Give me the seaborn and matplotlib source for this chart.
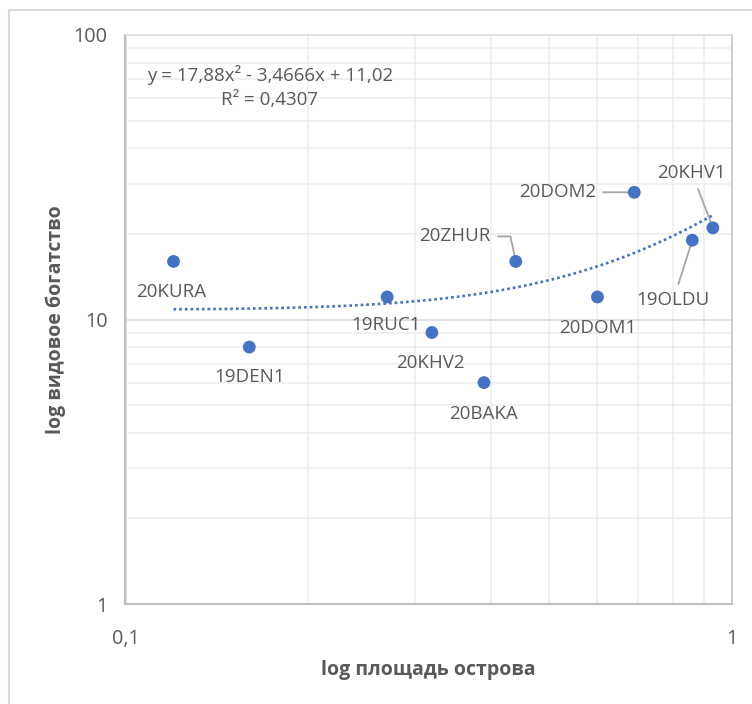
import numpy as np
import pandas as pd
import matplotlib
matplotlib.use("Agg")
import matplotlib.pyplot as plt
import seaborn as sns
from matplotlib.patches import Rectangle

# island samples: area vs species richness
sites = ['20KURA', '19DEN1', '19RUC1', '20KHV2', '20BAKA',
         '20ZHUR', '20DOM1', '20DOM2', '19OLDU', '20KHV1']
area = [0.12, 0.16, 0.27, 0.32, 0.39, 0.44, 0.60, 0.69, 0.86, 0.93]
richness = [16, 8, 12, 9, 6, 16, 12, 28, 19, 21]

# polynomial trendline as printed on the chart
trend_coef = [17.88, -3.4666, 11.02]
eq_line1 = 'y = 17,88x² - 3,4666x + 11,02'
eq_line2 = 'R² = 0,4307'

x_title = 'log площадь острова'
y_title = 'log видовое богатство'

df = pd.DataFrame({'site': sites, 'area': area, 'richness': richness})

sns.set_style('white')
plt.rcParams['font.family'] = ['Open Sans', 'DejaVu Sans']

DPI = 100
fig = plt.figure(figsize=(7.52, 7.04), dpi=DPI)
ax = fig.add_axes([125.5 / 752, 1 - 604 / 704, (732 - 125.5) / 752, (604 - 35) / 704])

blue = '#4472C4'
txt = '#595959'

# trendline
xs = np.linspace(df['area'].min(), df['area'].max(), 200)
ys = np.polyval(trend_coef, xs)
sns.lineplot(x=xs, y=ys, ax=ax, color=blue, linewidth=1.9,
             linestyle=(0, (1, 1.15)), zorder=3)

sns.scatterplot(data=df, x='area', y='richness', ax=ax, color=blue, s=85,
                edgecolor='none', zorder=5)

ax.set_xscale('log')
ax.set_yscale('log')
ax.set_xlim(0.1, 1)
ax.set_ylim(1, 100)

ax.set_xticks([0.1, 1], labels=['0,1', '1'])
ax.set_yticks([1, 10, 100], labels=['1', '10', '100'])
ax.xaxis.set_minor_formatter(matplotlib.ticker.NullFormatter())
ax.yaxis.set_minor_formatter(matplotlib.ticker.NullFormatter())
ax.tick_params(axis='x', which='major', length=5, color='#bfbfbf', width=1.2,
               pad=13, labelsize=14.3, labelcolor=txt)
ax.tick_params(axis='y', which='major', length=0, pad=13,
               labelsize=14.3, labelcolor=txt)
ax.tick_params(which='minor', length=0)

ax.grid(which='major', color='#d9d9d9', linewidth=1.1)
ax.grid(which='minor', color='#ededed', linewidth=1.1)
ax.set_axisbelow(True)

for side in ['left', 'bottom']:
    ax.spines[side].set_color('#bfbfbf')
    ax.spines[side].set_linewidth(1.5)
ax.spines['right'].set_color('#c8c8c8')
ax.spines['right'].set_linewidth(1.2)
ax.spines['top'].set_color('#dedede')
ax.spines['top'].set_linewidth(1.1)

ax.set_xlabel(x_title, fontsize=14, fontweight='bold', color=txt, labelpad=8)
ax.set_ylabel(y_title, fontsize=14, fontweight='bold', color=txt, labelpad=5)

# data labels, offsets in pixels from each point
px = 72 / DPI
label_offsets = {
    '20KURA': (-2, -31), '19DEN1': (0, -30), '19RUC1': (-1, -28),
    '20KHV2': (-1, -30.6), '20BAKA': (0, -31.3), '20ZHUR': (-61, 25),
    '20DOM1': (0, -30.6), '20DOM2': (-77, 0), '19OLDU': (-19, -60),
    '20KHV1': (-21, 55),
}
leaders = {
    '20ZHUR': 'angle,angleA=0,angleB=102,rad=0',
    '20DOM2': 'arc3',
    '19OLDU': 'arc3',
    '20KHV1': 'arc3',
}
for s, xv, yv in zip(sites, area, richness):
    dx, dy = label_offsets[s]
    arrow = None
    if s in leaders:
        arrow = dict(arrowstyle='-', color='#a6a6a6', lw=1.3,
                     connectionstyle=leaders[s], shrinkA=3, shrinkB=3)
    ax.annotate(s, xy=(xv, yv), xytext=(dx * px, dy * px),
                textcoords='offset points', ha='center', va='center',
                fontsize=13.5, color=txt, arrowprops=arrow, zorder=4)

fig.text(270 / 752, 1 - 75 / 704, eq_line1, ha='center', va='center',
         fontsize=13.5, color=txt)
fig.text(270 / 752, 1 - 100 / 704, eq_line2, ha='center', va='center',
         fontsize=13.5, color=txt)

# chart area border
fig.patches.append(Rectangle((9 / 752, -0.1), 2, 1 - 10 / 704 + 0.1,
                             transform=fig.transFigure, fill=False,
                             edgecolor='#d9d9d9', linewidth=1.5))

fig.savefig('out.png', dpi=DPI)
